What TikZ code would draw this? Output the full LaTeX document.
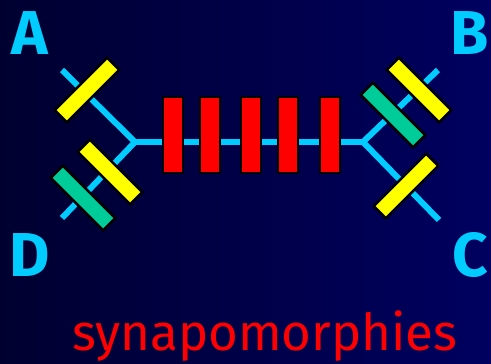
\documentclass[tikz,border=0pt]{standalone}
\usepackage{fontspec}
\setmainfont{Fira Sans}
\usepackage{tikz}
\usetikzlibrary{positioning}

\definecolor{bgleft}{RGB}{0,0,48}
\definecolor{bgright}{RGB}{0,0,96}
\definecolor{branchblue}{RGB}{0,204,255}
\definecolor{synred}{RGB}{255,0,0}
\definecolor{autyellow}{RGB}{255,255,0}
\definecolor{homgreen}{RGB}{0,204,153}

\tikzset{
  branch/.style={draw=branchblue,line width=6pt},
  synbar/.style={draw=black,line width=2.5pt,fill=synred,minimum width=20pt,minimum height=76pt,inner sep=0pt},
  autbar/.style={draw=black,line width=2.5pt,fill=autyellow,minimum width=74pt,minimum height=17pt,inner sep=0pt},
  hombar/.style={draw=black,line width=2.5pt,fill=homgreen,minimum width=74pt,minimum height=17pt,inner sep=0pt},
  taxon/.style={text=branchblue,font=\fontsize{62}{62}\selectfont\bfseries,inner sep=0pt}
}

\begin{document}
\begin{tikzpicture}[x=1pt,y=1pt]
            % background
            \shade [left color=bgleft,right color=bgright] (0,0) rectangle (491,-364);
            \useasboundingbox (0,0) rectangle (491,-364);
            % tree
            \coordinate (jl) at (135,-142);
            \coordinate (jr) at (363,-142);
            \coordinate (ta) at (62,-70);
            \coordinate (td) at (62,-218);
            \coordinate (tb) at (438,-70);
            \coordinate (tc) at (439,-220);
            \draw [branch] (ta) -- (jl) -- (td);
            \draw [branch] (jl) -- (jr);
            \draw [branch] (tb) -- (jr) -- (tc);
            % shared characters
            \node [synbar] (s1) at (173,-135) {};
            \node [synbar] (s2) at (210,-135) {};
            \node [synbar] (s3) at (251,-135) {};
            \node [synbar] (s4) at (288,-135) {};
            \node [synbar] (s5) at (330,-135) {};
            % characters on the tips
            \node [autbar,rotate=45] (ya) at (87,-90) {};
            \node [autbar,rotate=-45] (yd) at (110,-172) {};
            \node [hombar,rotate=-45] (gd) at (83,-198) {};
            \node [autbar,rotate=-45] (yb) at (419,-90) {};
            \node [hombar,rotate=-45] (gb) at (393,-115) {};
            \node [autbar,rotate=45] (yc) at (406,-186) {};
            % labels
            \node [taxon] (la) at (30,-33) {A};
            \node [taxon] (lb) at (470,-33) {B};
            \node [taxon] (lc) at (470,-255) {C};
            \node [taxon] (ld) at (30,-255) {D};
            \node [text=synred,font=\fontsize{51}{51}\selectfont,anchor=base,inner sep=0pt] (syn) at (265,-350) {synapomorphies};
        \end{tikzpicture}
\end{document}
